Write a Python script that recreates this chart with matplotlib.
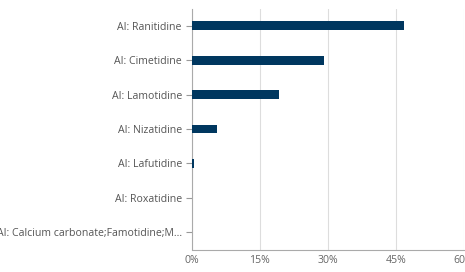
import matplotlib.pyplot as plt
from matplotlib.ticker import FuncFormatter

labels = [
    "AI: Ranitidine",
    "AI: Cimetidine",
    "AI: Lamotidine",
    "AI: Nizatidine",
    "AI: Lafutidine",
    "AI: Roxatidine",
    "AI: Calcium carbonate;Famotidine;M...",
]
values = [46.7, 29.1, 19.2, 5.6, 0.5, 0.0, 0.0]
x_ticks = [0, 15, 30, 45, 60]

plt.rcParams['font.family'] = ['Open Sans', 'DejaVu Sans']

fig = plt.figure(figsize=(4.65, 2.72), dpi=100)
ax = fig.add_axes([191.5 / 465, 1 - 249.5 / 272, (464 - 191.5) / 465, (249.5 - 8.5) / 272])

pos = list(range(len(labels)))
ax.barh(pos, values, height=0.26, color="#00375f", zorder=3)
ax.set_ylim(len(labels) - 0.5, -0.5)
ax.set_yticks(pos)
ax.set_yticklabels(labels, fontsize=7.6, color="#555555")

ax.set_xlim(0, 60)
ax.set_xticks(x_ticks)
ax.xaxis.set_major_formatter(FuncFormatter(lambda v, p: f"{v:g}%"))
ax.tick_params(axis="x", length=0, labelsize=7.6, labelcolor="#666666", pad=4)
ax.tick_params(axis="y", length=4, color="#999999", width=0.8, pad=3)
ax.grid(axis="x", color="#dddddd", linewidth=0.8, zorder=0)

for s in ["top", "right"]:
    ax.spines[s].set_visible(False)
for s in ["left", "bottom"]:
    ax.spines[s].set_color("#aaaaaa")
    ax.spines[s].set_linewidth(0.8)

fig.savefig("out.png", dpi=100)
